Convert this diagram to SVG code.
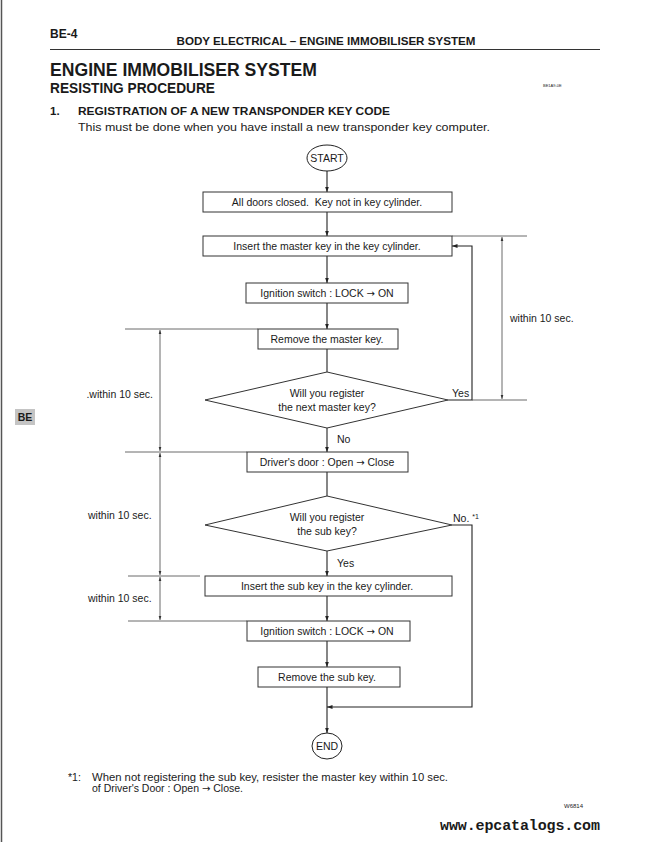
<svg xmlns="http://www.w3.org/2000/svg" width="651" height="842" viewBox="0 0 651 842">
<style>
text{font-family:"Liberation Sans",Arial,sans-serif;fill:#1a1a1a}
.b{font-weight:bold}
.t{font-size:10.5px;text-anchor:middle}
.s{font-size:10.5px}
.ar{font-family:"DejaVu Sans",sans-serif;font-size:10px}
.box{fill:#fff;stroke:#333;stroke-width:1}
.ln{fill:none;stroke:#222;stroke-width:1.1}
.dm{fill:none;stroke:#444;stroke-width:0.8}
</style>
<defs>
<marker id="ah" viewBox="0 0 6 6" refX="6" refY="3" markerWidth="5" markerHeight="5" orient="auto"><path d="M0,0.8 L6,3 L0,5.2 z" fill="#222"/></marker>
<marker id="dh" viewBox="0 0 6 6" refX="6" refY="3" markerWidth="5" markerHeight="5" orient="auto-start-reverse"><path d="M0,1 L6,3 L0,5 z" fill="#333"/></marker>
</defs>
<rect width="651" height="842" fill="#fff"/>
<line x1="1.5" y1="0" x2="1.5" y2="842" stroke="#555" stroke-width="1.5"/>

<g id="header">
<text x="50" y="38" class="b" font-size="12">BE-4</text>
<text x="326" y="45" class="b" font-size="11" text-anchor="middle" textLength="299" lengthAdjust="spacingAndGlyphs">BODY ELECTRICAL – ENGINE IMMOBILISER SYSTEM</text>
<line x1="50" y1="49.5" x2="600" y2="49.5" stroke="#333" stroke-width="1.2"/>
<text x="50" y="76" class="b" font-size="18" textLength="267" lengthAdjust="spacingAndGlyphs">ENGINE IMMOBILISER SYSTEM</text>
<text x="50" y="93" class="b" font-size="15" textLength="165" lengthAdjust="spacingAndGlyphs">RESISTING PROCEDURE</text>
<text x="543" y="87" font-size="4" fill="#555">BE1A9-0E</text>
<text x="50" y="115" class="b" font-size="11.5">1.</text>
<text x="78" y="115" class="b" font-size="11.5" textLength="312" lengthAdjust="spacingAndGlyphs">REGISTRATION OF A NEW TRANSPONDER KEY CODE</text>
<text x="78" y="131" font-size="11" textLength="412" lengthAdjust="spacingAndGlyphs">This must be done when you have install a new transponder key computer.</text>
</g>

<g id="tab">
<rect x="15" y="409" width="20" height="16" fill="#c4c4c4"/>
<text x="25" y="421" class="b" font-size="10.5" text-anchor="middle" fill="#333">BE</text>
</g>

<g id="connectors">
<line class="ln" x1="327" y1="171" x2="327" y2="192" marker-end="url(#ah)"/>
<line class="ln" x1="327" y1="212" x2="327" y2="236" marker-end="url(#ah)"/>
<line class="ln" x1="327" y1="256" x2="327" y2="283" marker-end="url(#ah)"/>
<line class="ln" x1="327" y1="303" x2="327" y2="329" marker-end="url(#ah)"/>
<line class="ln" x1="327" y1="349" x2="327" y2="372"/>
<line class="ln" x1="327" y1="428" x2="327" y2="452" marker-end="url(#ah)"/>
<line class="ln" x1="327" y1="472" x2="327" y2="496"/>
<line class="ln" x1="327" y1="551" x2="327" y2="576" marker-end="url(#ah)"/>
<line class="ln" x1="327" y1="596" x2="327" y2="621" marker-end="url(#ah)"/>
<line class="ln" x1="327" y1="641" x2="327" y2="667" marker-end="url(#ah)"/>
<line class="ln" x1="327" y1="687" x2="327" y2="733" marker-end="url(#ah)"/>
<polyline class="ln" points="448,400 472,400 472,246 452,246" marker-end="url(#ah)"/>
<polyline class="ln" points="452,525 472,525 472,707 327,707" marker-end="url(#ah)"/>
<text x="452" y="397" class="s">Yes</text>
<text x="337" y="443" class="s">No</text>
<text x="337" y="567" class="s">Yes</text>
<text x="453" y="522" class="s">No. <tspan font-size="7" dy="-3">*1</tspan></text>
</g>

<g id="timing">
<line class="dm" x1="452" y1="236" x2="527" y2="236"/>
<line class="dm" x1="472" y1="400" x2="527" y2="400"/>
<line class="dm" x1="502" y1="237" x2="502" y2="399" marker-start="url(#dh)" marker-end="url(#dh)"/>
<text x="510" y="322" class="s">within 10 sec.</text>
<line class="dm" x1="125" y1="329" x2="258" y2="329"/>
<line class="dm" x1="125" y1="452" x2="247" y2="452"/>
<line class="dm" x1="128" y1="576" x2="200" y2="576"/>
<line class="dm" x1="128" y1="621" x2="247" y2="621"/>
<line class="dm" x1="160" y1="330" x2="160" y2="451" marker-start="url(#dh)" marker-end="url(#dh)"/>
<line class="dm" x1="160" y1="453" x2="160" y2="575" marker-start="url(#dh)" marker-end="url(#dh)"/>
<line class="dm" x1="160" y1="577" x2="160" y2="620" marker-start="url(#dh)" marker-end="url(#dh)"/>
<text x="153" y="398" class="s" text-anchor="end">.within 10 sec.</text>
<text x="88" y="519" class="s">within 10 sec.</text>
<text x="88" y="602" class="s">within 10 sec.</text>
</g>

<g id="start"><ellipse cx="327" cy="158" rx="20" ry="13" fill="#fff" stroke="#222"/><text x="327" y="162" class="t" font-size="10.5">START</text></g>
<g id="n1"><rect class="box" x="203" y="192" width="249" height="20"/><text x="327" y="206" class="t" xml:space="preserve">All doors closed.  Key not in key cylinder.</text></g>
<g id="n2"><rect class="box" x="203" y="236" width="249" height="20"/><text x="327" y="250" class="t">Insert the master key in the key cylinder.</text></g>
<g id="n3"><rect class="box" x="246" y="283" width="162" height="20"/><text x="327" y="297" class="t">Ignition switch : LOCK <tspan class="ar">→</tspan> ON</text></g>
<g id="n4"><rect class="box" x="258" y="329" width="140" height="20"/><text x="327" y="343" class="t">Remove the master key.</text></g>
<g id="d1"><polygon class="box" points="327,372 448,400 327,428 205,400"/><text x="327" y="397" class="t">Will you register</text><text x="327" y="411" class="t">the next master key?</text></g>
<g id="n5"><rect class="box" x="247" y="452" width="161" height="20"/><text x="327" y="466" class="t">Driver's door : Open <tspan class="ar">→</tspan> Close</text></g>
<g id="d2"><polygon class="box" points="327,496 452,525 327,551 205,525"/><text x="327" y="521" class="t">Will you register</text><text x="327" y="535" class="t">the sub key?</text></g>
<g id="n6"><rect class="box" x="205" y="576" width="247" height="20"/><text x="327" y="590" class="t">Insert the sub key in the key cylinder.</text></g>
<g id="n7"><rect class="box" x="247" y="621" width="163" height="20"/><text x="327" y="635" class="t">Ignition switch : LOCK <tspan class="ar">→</tspan> ON</text></g>
<g id="n8"><rect class="box" x="258" y="667" width="142" height="20"/><text x="327" y="681" class="t">Remove the sub key.</text></g>
<g id="end"><ellipse cx="327" cy="746" rx="15" ry="13" fill="#fff" stroke="#222"/><text x="327" y="750" class="t">END</text></g>

<g id="footer">
<text x="68" y="781" class="s">*1:</text>
<text x="92" y="781" class="s" textLength="356" lengthAdjust="spacingAndGlyphs">When not registering the sub key, resister the master key within 10 sec.</text>
<text x="92" y="792" class="s">of Driver's Door : Open <tspan class="ar">→</tspan> Close.</text>
<text x="564" y="808" font-size="6" fill="#444">W6814</text>
<text x="440" y="830" font-size="15" font-weight="bold" fill="#222" style="font-family:'Liberation Mono',monospace" textLength="160">www.epcatalogs.com</text>
</g>
</svg>
